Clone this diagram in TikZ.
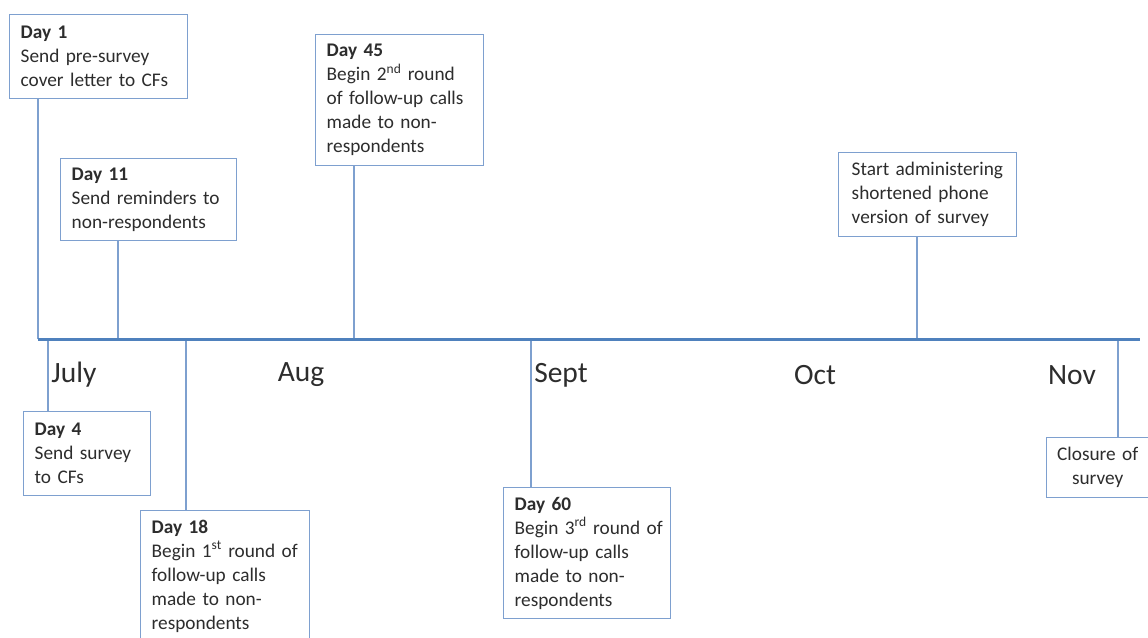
\documentclass[tikz,border=0pt]{standalone}
\usepackage{fontspec}
\setmainfont{Carlito}
\definecolor{linec}{RGB}{79,129,189}
\definecolor{boxc}{RGB}{126,160,207}
\definecolor{txt}{RGB}{45,45,45}
\newcommand\ml[1]{\mbox{#1}}
\tikzset{
  evbox/.style={draw=boxc, line width=1.4pt, fill=white, align=left, anchor=north west,
    inner xsep=11pt, inner ysep=4pt, text=txt, font=\fontsize{19.3}{24}\selectfont},
  conn/.style={draw=boxc, line width=1.8pt},
  month/.style={text=txt, font=\fontsize{29.5}{30}\selectfont, inner sep=0pt},
  axis/.style={draw=linec, line width=3pt}
}
\begin{document}
\begin{tikzpicture}[x=1pt,y=-1pt]
\useasboundingbox (0,0) rectangle (1148,637);
% timeline points
\coordinate (tstart) at (38,339);
\coordinate (tend) at (1140,339);
\coordinate (t1) at (38,339);
\coordinate (t11) at (118,339);
\coordinate (t45) at (354,339);
\coordinate (tph) at (917,339);
\coordinate (t4) at (48,339);
\coordinate (t18) at (186,339);
\coordinate (t60) at (531,339);
\coordinate (tcl) at (1118,339);
% boxes
\node[evbox, text width=156pt, minimum height=84pt] (d1) at (9,14)
  {\ml{\textbf{Day 1}}\\\ml{Send pre-survey}\\\ml{cover letter to CFs}};
\node[evbox, text width=154pt, minimum height=82pt] (d11) at (60,158)
  {\ml{\textbf{Day 11}}\\\ml{Send reminders to}\\\ml{non-respondents}};
\node[evbox, text width=146pt, minimum height=131pt] (d45) at (315,34)
  {\ml{\textbf{Day 45}}\\\ml{Begin 2\textsuperscript{nd} round}\\\ml{of follow-up calls}\\\ml{made to non-}\\\ml{respondents}};
\node[evbox, text width=152pt, minimum height=84pt, inner xsep=13pt] (dph) at (838,152)
  {\ml{Start administering}\\\ml{shortened phone}\\\ml{version of survey}};
\node[evbox, text width=105pt, minimum height=84pt] (d4) at (23,411)
  {\ml{\textbf{Day 4}}\\\ml{Send survey}\\\ml{to CFs}};
\node[evbox, text width=147pt, minimum height=131pt] (d18) at (140,510)
  {\ml{\textbf{Day 18}}\\\ml{Begin 1\textsuperscript{st} round of}\\\ml{follow-up calls}\\\ml{made to non-}\\\ml{respondents}};
\node[evbox, text width=145pt, minimum height=131pt] (d60) at (503,487)
  {\ml{\textbf{Day 60}}\\\ml{Begin 3\textsuperscript{rd} round of}\\\ml{follow-up calls}\\\ml{made to non-}\\\ml{respondents}};
\node[evbox, align=center, text width=84pt, minimum height=60pt, inner xsep=9pt] (dcl) at (1046,437)
  {\ml{Closure of}\\\ml{survey}};
% connectors
\draw[conn] (t1) -- (t1 |- d1.south);
\draw[conn] (t11) -- (t11 |- d11.south);
\draw[conn] (t45) -- (t45 |- d45.south);
\draw[conn] (tph) -- (tph |- dph.south);
\draw[conn] (t4) -- (t4 |- d4.north);
\draw[conn] (t18) -- (t18 |- d18.north);
\draw[conn] (t60) -- (t60 |- d60.north);
\draw[conn] (tcl) -- (tcl |- dcl.north);
% axis
\draw[axis] (tstart) -- (tend);
% months
\node[month] (jul) at (74,375) {July};
\node[month] (aug) at (301,375) {Aug};
\node[month] (sep) at (561,375) {Sept};
\node[month] (oct) at (815,375) {Oct};
\node[month] (nov) at (1072,375) {Nov};
\end{tikzpicture}
\end{document}
